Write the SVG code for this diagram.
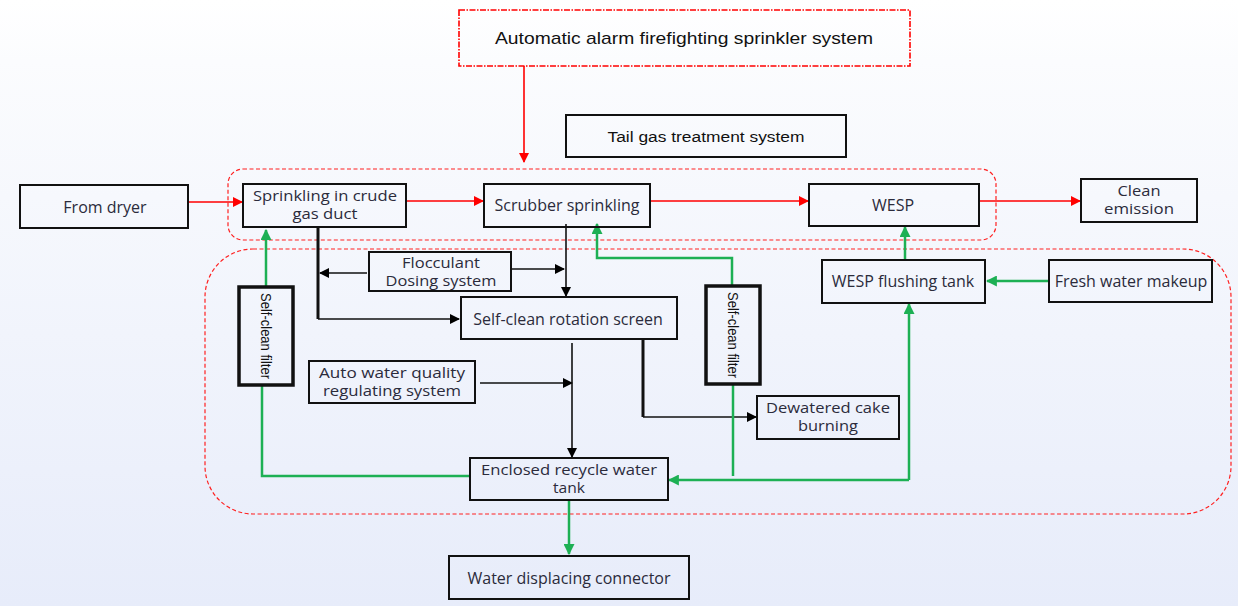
<svg xmlns="http://www.w3.org/2000/svg" width="1238" height="606" viewBox="0 0 1238 606">
<defs>
<linearGradient id="bg" x1="0" y1="0" x2="0" y2="1">
<stop offset="0" stop-color="#ffffff"/>
<stop offset="0.1" stop-color="#fbfcfe"/>
<stop offset="1" stop-color="#e7ecfa"/>
</linearGradient>
<marker id="ar" viewBox="0 0 10 10" refX="9" refY="5" markerWidth="10" markerHeight="10" markerUnits="userSpaceOnUse" orient="auto"><path d="M0,0 L10,5 L0,10 z" fill="#ff0000"/></marker>
<marker id="ak" viewBox="0 0 10 10" refX="9" refY="5" markerWidth="10" markerHeight="10" markerUnits="userSpaceOnUse" orient="auto"><path d="M0,0 L10,5 L0,10 z" fill="#000"/></marker>
<marker id="ag" viewBox="0 0 10 10" refX="9" refY="5" markerWidth="11" markerHeight="11" markerUnits="userSpaceOnUse" orient="auto"><path d="M0,0 L10,5 L0,10 z" fill="#1db054"/></marker>
</defs>
<style>
.box{fill:none;stroke:#111;stroke-width:2}
.thick{fill:none;stroke:#111;stroke-width:3.5}
.t{font-family:"Open Sans","Noto Sans",sans-serif;font-size:16px;fill:#2b2b3b;text-anchor:middle}
.t2{font-family:"Open Sans","Noto Sans",sans-serif;font-size:14.8px;fill:#2b2b3b;text-anchor:middle}
.ta{font-family:"Liberation Sans",Arial,sans-serif;fill:#111;text-anchor:middle}
.red{fill:none;stroke:#ff0000;stroke-width:1.6}
.blk{fill:none;stroke:#111;stroke-width:1.6}
.blkT{fill:none;stroke:#111;stroke-width:3}
.grn{fill:none;stroke:#1db054;stroke-width:2.5}
.dash{fill:none;stroke:#ff2020;stroke-width:1.2;stroke-dasharray:4 2.5}
</style>
<rect width="1238" height="606" fill="url(#bg)"/>

<g id="groups">
<rect x="228" y="169" width="768" height="71" rx="15" class="dash"/>
<rect x="205" y="249" width="1026" height="265" rx="48" class="dash"/>
</g>

<g id="connectors">
<path d="M524,66 V162" class="red" marker-end="url(#ar)"/>
<path d="M188,202 H242" class="red" marker-end="url(#ar)"/>
<path d="M406,201 H483" class="red" marker-end="url(#ar)"/>
<path d="M650,201 H808" class="red" marker-end="url(#ar)"/>
<path d="M979,201 H1080" class="red" marker-end="url(#ar)"/>

<path d="M318,227 V319" class="blkT"/>
<path d="M318,319 H459" class="blk" marker-end="url(#ak)"/>
<path d="M367,273 H320" class="blk" marker-end="url(#ak)"/>
<path d="M511,269 H564" class="blk" marker-end="url(#ak)"/>
<path d="M566,224 V296" class="blk" marker-end="url(#ak)"/>
<path d="M480,383 H572" class="blk" marker-end="url(#ak)"/>
<path d="M572,343 V457" class="blk" marker-end="url(#ak)"/>
<path d="M643,339 V417" class="blkT"/>
<path d="M643,417 H756" class="blk" marker-end="url(#ak)"/>

<path d="M266,287 V230" class="grn" marker-end="url(#ag)"/>
<path d="M732,285 V258 H597 V224" class="grn" marker-end="url(#ag)"/>
<path d="M262,386 V476 H470" class="grn"/>
<path d="M733,384 V476" class="grn"/>
<path d="M909,480 V304" class="grn" marker-end="url(#ag)"/>
<path d="M909,480 H669" class="grn" marker-end="url(#ag)"/>
<path d="M905,260 V227" class="grn" marker-end="url(#ag)"/>
<path d="M1049,281 H987" class="grn" marker-end="url(#ag)"/>
<path d="M569,500 V554" class="grn" marker-end="url(#ag)"/>
</g>

<g id="alarm">
<rect x="459" y="10" width="451" height="56" fill="none" stroke="#ff0000" stroke-width="1.6" stroke-dasharray="6 1.5 1.5 1.5"/>
<text x="684" y="44" class="ta" font-size="17" textLength="378" lengthAdjust="spacingAndGlyphs">Automatic alarm firefighting sprinkler system</text>
</g>
<g id="tailgas">
<rect x="566" y="115" width="280" height="42" class="box"/>
<text x="706" y="142" class="ta" font-size="15.5" textLength="197" lengthAdjust="spacingAndGlyphs">Tail gas treatment system</text>
</g>
<g id="dryer">
<rect x="20" y="185" width="168" height="43" class="box"/>
<text x="105" y="213" class="t">From dryer</text>
</g>
<g id="crude">
<rect x="243" y="184" width="163" height="43" class="box"/>
<text x="325" y="201" class="t2" textLength="144" lengthAdjust="spacingAndGlyphs">Sprinkling in crude</text>
<text x="325" y="219" class="t2" textLength="65" lengthAdjust="spacingAndGlyphs">gas duct</text>
</g>
<g id="scrubber">
<rect x="484" y="184" width="166" height="43" class="box"/>
<text x="567" y="211" class="t">Scrubber sprinkling</text>
</g>
<g id="wesp">
<rect x="809" y="184" width="170" height="42" class="box"/>
<text x="893" y="211" class="t">WESP</text>
</g>
<g id="clean">
<rect x="1081" y="179" width="116" height="43" class="box"/>
<text x="1139" y="196" class="t2" textLength="43" lengthAdjust="spacingAndGlyphs">Clean</text>
<text x="1139" y="214" class="t2" textLength="70" lengthAdjust="spacingAndGlyphs">emission</text>
</g>
<g id="flocculant">
<rect x="369" y="252" width="142" height="39" class="box"/>
<text x="441" y="268" class="t2" textLength="78" lengthAdjust="spacingAndGlyphs">Flocculant</text>
<text x="441" y="286" class="t2" textLength="111" lengthAdjust="spacingAndGlyphs">Dosing system</text>
</g>
<g id="rotation">
<rect x="461" y="297" width="216" height="42" class="box"/>
<text x="568" y="325" class="t">Self-clean rotation screen</text>
</g>
<g id="filterL">
<rect x="239" y="287" width="54" height="98" class="thick"/>
<text transform="translate(261,336) rotate(90)" class="ta" font-size="14" textLength="86" lengthAdjust="spacingAndGlyphs">Self-clean filter</text>
</g>
<g id="filterR">
<rect x="706" y="286" width="54" height="98" class="thick"/>
<text transform="translate(728,335) rotate(90)" class="ta" font-size="14" textLength="86" lengthAdjust="spacingAndGlyphs">Self-clean filter</text>
</g>
<g id="flushing">
<rect x="822" y="260" width="163" height="43" class="box"/>
<text x="903" y="287" class="t">WESP flushing tank</text>
</g>
<g id="fresh">
<rect x="1049" y="260" width="163" height="42" class="box"/>
<text x="1131" y="287" class="t">Fresh water makeup</text>
</g>
<g id="autowater">
<rect x="309" y="361" width="166" height="42" class="box"/>
<text x="392" y="378" class="t2" textLength="146" lengthAdjust="spacingAndGlyphs">Auto water quality</text>
<text x="392" y="396" class="t2" textLength="138" lengthAdjust="spacingAndGlyphs">regulating system</text>
</g>
<g id="dewatered">
<rect x="757" y="396" width="142" height="43" class="box"/>
<text x="828" y="413" class="t2" textLength="124" lengthAdjust="spacingAndGlyphs">Dewatered cake</text>
<text x="828" y="431" class="t2" textLength="60" lengthAdjust="spacingAndGlyphs">burning</text>
</g>
<g id="enclosed">
<rect x="470" y="458" width="198" height="42" class="box"/>
<text x="569" y="475" class="t2" textLength="176" lengthAdjust="spacingAndGlyphs">Enclosed recycle water</text>
<text x="569" y="493" class="t2" textLength="32" lengthAdjust="spacingAndGlyphs">tank</text>
</g>
<g id="displacing">
<rect x="449" y="556" width="240" height="43" class="box"/>
<text x="569" y="584" class="t">Water displacing connector</text>
</g>
</svg>
